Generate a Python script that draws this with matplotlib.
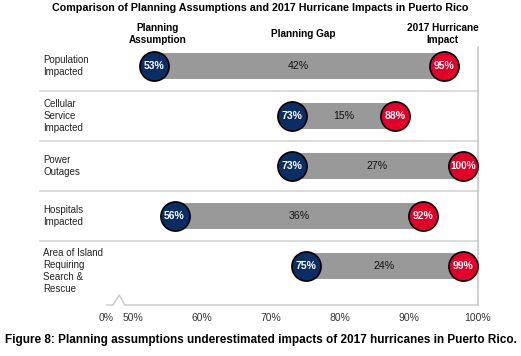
import matplotlib
matplotlib.use("Agg")
import matplotlib.pyplot as plt

# ---- data ----
categories = ["Population\nImpacted", "Cellular\nService\nImpacted", "Power\nOutages",
              "Hospitals\nImpacted", "Area of Island\nRequiring\nSearch &\nRescue"]
planning = [53, 73, 73, 56, 75]
impact = [95, 88, 100, 92, 99]
gap = [42, 15, 27, 36, 24]
tick_values = [0, 50, 60, 70, 80, 90, 100]
tick_labels = ["0%", "50%", "60%", "70%", "80%", "90%", "100%"]
title = "Comparison of Planning Assumptions and 2017 Hurricane Impacts in Puerto Rico"
caption = "Figure 8: Planning assumptions underestimated impacts of 2017 hurricanes in Puerto Rico."

NAVY = "#0c2d63"
RED = "#e0002a"
GRAY = "#999999"
SEP = "#d4d4d4"
FONT = "Liberation Sans"

plt.rcParams["font.family"] = [FONT, "DejaVu Sans"]

W, H = 521, 356
fig = plt.figure(figsize=(W / 100, H / 100), dpi=100)
L, R, T, B = 40, 478, 47, 305
ax = fig.add_axes([L / W, (H - B) / H, (R - L) / W, (B - T) / H])
XMIN, XMAX = 36.5, 100
ax.set_xlim(XMIN, XMAX)
ax.set_ylim(4.78, -0.38)
for s in ax.spines.values():
    s.set_visible(False)
ax.set_yticks([])

BREAK = 46.1  # axis position used for the 0% label (broken axis)

def xpos(v):
    return BREAK if v == 0 else v

ax.set_xticks([xpos(v) for v in tick_values], tick_labels)
ax.tick_params(axis="x", length=0, pad=6, labelsize=7.5, labelcolor="#333333")

# separators
for i in range(len(categories) - 1):
    ax.plot([XMIN, XMAX], [i + 0.5, i + 0.5], color=SEP, lw=1.2, clip_on=False, zorder=1)
# right spine
ax.plot([XMAX, XMAX], [-0.38, 4.78], color="#c8c8c8", lw=1.2, clip_on=False, zorder=1)
# bottom axis with break
yb = 4.78
ax.plot([46.2, 47.1, 48.0, 48.8, 100], [yb, yb, yb - 0.2, yb, yb],
        color="#c8c8c8", lw=1.0, clip_on=False, zorder=1)

rad = 2.2  # circle radius in data units (keeps circle inside the 100% line)
for i, (p, m, g, c) in enumerate(zip(planning, impact, gap, categories)):
    mx = min(m, XMAX - rad)
    ax.barh(i, mx - p, left=p, height=0.53, color=GRAY, zorder=2)
    ax.scatter([p], [i], s=440, color=NAVY, edgecolor="black", linewidth=1.2, zorder=3)
    ax.scatter([mx], [i], s=440, color=RED, edgecolor="black", linewidth=1.2, zorder=3)
    ax.text(p, i, f"{p}%", color="white", fontsize=7.5, fontweight="bold",
            ha="center", va="center", zorder=4)
    ax.text(mx, i, f"{m}%", color="white", fontsize=7.5 if m < 100 else 7.2,
            fontweight="bold", ha="center", va="center", zorder=4)
    ax.text((p + mx) / 2, i, f"{g}%", color="#111111", fontsize=7.6,
            ha="center", va="center", zorder=4)
    off = 0.1 if i == len(categories) - 1 else 0.0
    ax.text(XMIN + 0.45, i + off, c, fontsize=7, ha="left", va="center",
            linespacing=1.25, color="#222222")

# headers
ax.text(53.5, -0.64, "Planning\nAssumption", fontsize=7.2, fontweight="bold",
        ha="center", va="center", linespacing=1.2, clip_on=False)
ax.text(74.6, -0.64, "Planning Gap", fontsize=7.2, fontweight="bold",
        ha="center", va="center", clip_on=False)
ax.text(94.9, -0.64, "2017 Hurricane\nImpact", fontsize=7.2, fontweight="bold",
        ha="center", va="center", linespacing=1.2, clip_on=False)

fig.text(260 / W, 1 - 8 / H, title, fontsize=7.75, fontweight="bold",
         ha="center", va="center")
fig.text(261 / W, 1 - 340 / H, caption, fontsize=8.5, fontweight="bold",
         ha="center", va="center")

fig.savefig("out.png", dpi=100)
